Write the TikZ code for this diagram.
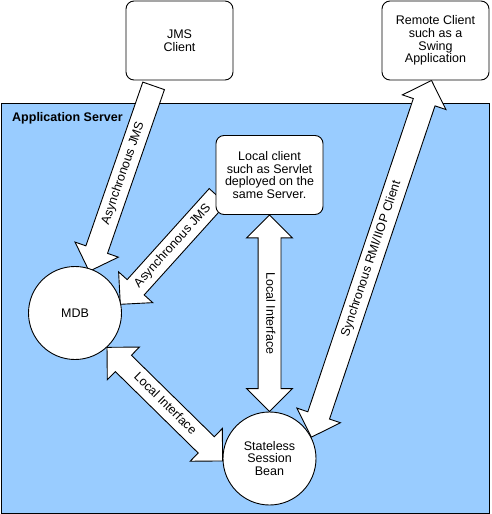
\documentclass[tikz,border=0pt]{standalone}
\usepackage{fontspec}
\setmainfont{Liberation Sans}
\usetikzlibrary{calc,shapes.arrows}

\definecolor{serverblue}{HTML}{99CCFF}

\pgfdeclarelayer{bg}
\pgfdeclarelayer{mid}
\pgfsetlayers{bg,mid,main}

\newcommand{\labelfont}{\fontsize{12.5}{12.7}\selectfont}

\tikzset{
  client/.style={draw, fill=white, line width=0.9pt, rounded corners=8pt,
    minimum width=107pt, minimum height=79pt, align=center, font=\labelfont},
  bean/.style={draw, fill=white, line width=0.9pt, circle, minimum size=93pt,
    inner sep=0pt, align=center, font=\labelfont},
  fat/.style={draw, fill=white, line width=0.9pt, inner xsep=0pt, inner ysep=5pt,
    text height=9.2pt, text depth=2.8pt, font=\labelfont},
  backarrow/.style={fat, single arrow, single arrow head extend=11.5pt,
    shape border rotate=180},
  twoarrow/.style={fat, double arrow, double arrow head extend=11.5pt},
}

% block arrow between two points: style, name, from, to, text
\newcommand{\fatlink}[5]{%
  \path let \p1=(#3), \p2=(#4),
    \n1={atan2(\y2-\y1,\x2-\x1)}, \n2={veclen(\x2-\x1,\y2-\y1)} in
    node[#1, rotate=\n1, minimum height=\n2] (#2) at ($(#3)!0.5!(#4)$) {#5};}

\begin{document}
\begin{tikzpicture}[x=1pt, y=-1pt]
\useasboundingbox (0,0) rectangle (491,514);

\begin{pgfonlayer}{bg}
\node[draw, fill=serverblue, line width=0.9pt, anchor=north west,
  minimum width=488pt, minimum height=409.5pt] (appserver) at (0.5,103) {};
\end{pgfonlayer}
\node[anchor=west, font=\labelfont\bfseries, inner sep=0pt] (apptitle) at (12,118) {Application Server};

% clients
\node[client] (jms) at (179.5,40.5) {JMS\\Client};
\node[client] (remote) at (435.5,40.5) {Remote Client\\such as a\\Swing\\Application};
\node[client] (local) at (269.5,175) {Local client\\such as Servlet\\deployed on the\\same Server.};

% beans
\node[bean] (mdb) at (75,313) {MDB};
\node[bean] (ssb) at (269.5,458.5) {Stateless\\Session\\Bean};

% connectors
\begin{pgfonlayer}{mid}
\fatlink{backarrow}{jmslink}{[yshift=3pt]mdb.70}{[xshift=-24pt]jms.south}{Asynchronous JMS}
\fatlink{backarrow}{locallink}{[xshift=4pt]mdb.16}{[xshift=6pt,yshift=-17pt]local.west}{Asynchronous JMS}
\fatlink{twoarrow}{localif}{local.south}{ssb.north}{Local Interface}
\fatlink{twoarrow}{beanif}{mdb.-47}{ssb.183}{Local Interface}
\fatlink{twoarrow}{remotelink}{ssb.27}{[xshift=-4pt]remote.south}{Synchronous RMI/IIOP Client}
\end{pgfonlayer}
\end{tikzpicture}
\end{document}
